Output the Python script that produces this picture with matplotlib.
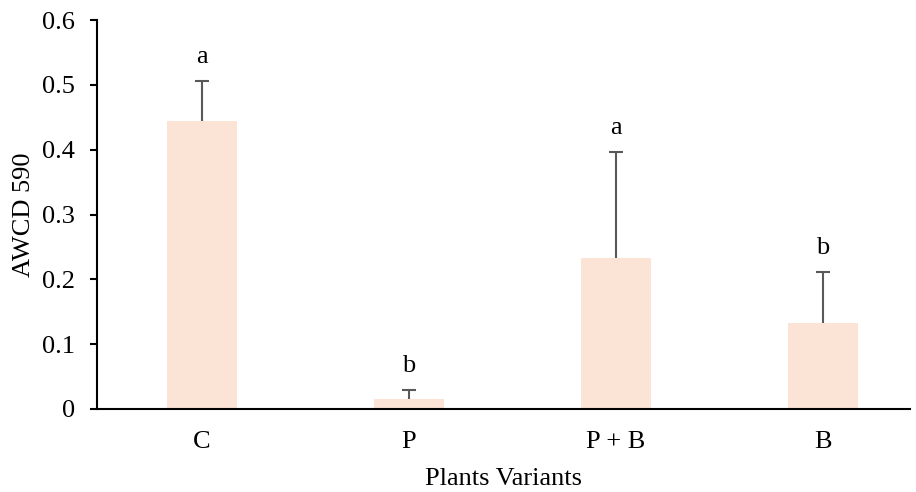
import matplotlib
matplotlib.use("Agg")
import matplotlib.pyplot as plt

categories = ["C", "P", "P + B", "B"]
values = [0.445, 0.016, 0.233, 0.133]
errors = [0.061, 0.013, 0.163, 0.078]
letters = ["a", "b", "a", "b"]
yticks = [0, 0.1, 0.2, 0.3, 0.4, 0.5, 0.6]
ytick_labels = ["0", "0.1", "0.2", "0.3", "0.4", "0.5", "0.6"]

plt.rcParams['font.family'] = ['Liberation Serif', 'DejaVu Serif']
FS = 19

fig = plt.figure(figsize=(9.16, 4.92), dpi=100)
ax = fig.add_axes([0.1059, 0.1687, 0.8875, 0.7906])

x = list(range(len(categories)))
ax.bar(x, values, width=0.34, color="#FBE3D6", zorder=2)
eb = ax.errorbar(x, values, yerr=[[0]*len(errors), errors], fmt="none",
                 ecolor="#595959", elinewidth=1.5, capsize=5, capthick=1.5, zorder=3)
caplines = eb[1]
if len(caplines) == 2:
    caplines[0].set_visible(False)
for xi, v, e, l in zip(x, values, errors, letters):
    ax.text(xi, v + e + 0.02, l, ha="center", va="bottom", fontsize=FS)

ax.set_xlim(-0.507, 3.42)
ax.set_ylim(0, 0.6)
ax.set_yticks(yticks)
ax.set_yticklabels(ytick_labels, fontsize=FS)
ax.set_xticks(x)
ax.set_xticklabels(categories, fontsize=FS)
ax.tick_params(axis="x", length=0, pad=16)
ax.tick_params(axis="y", direction="out", length=5, width=1.5, pad=11)
for s in ["top", "right"]:
    ax.spines[s].set_visible(False)
ax.spines["left"].set_linewidth(1.5)
ax.spines["bottom"].set_linewidth(1.5)
ax.set_ylabel("AWCD 590", fontsize=FS, labelpad=5)
ax.set_xlabel("Plants Variants", fontsize=FS, labelpad=11)

fig.savefig("out.png", dpi=100)
